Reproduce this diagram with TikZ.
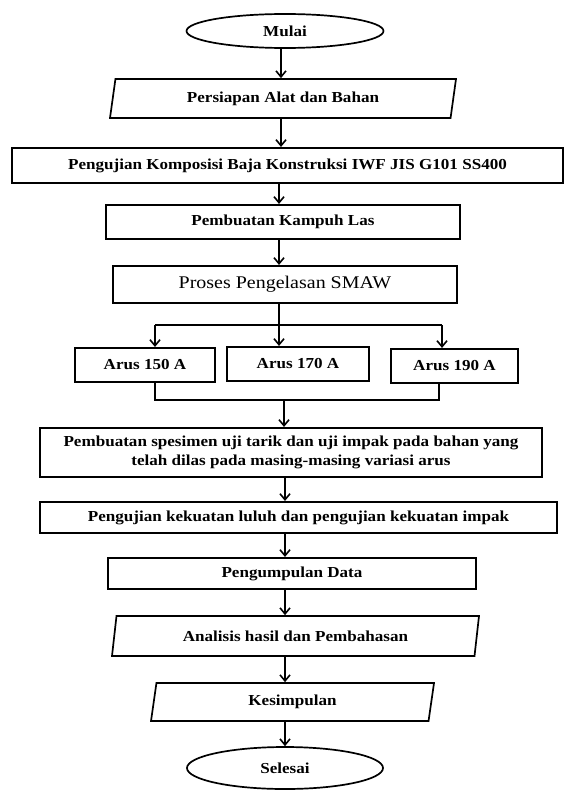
\documentclass[tikz,border=0pt]{standalone}
\usepackage{fontspec}
\setmainfont[FakeStretch=1.12]{Liberation Serif}
\usetikzlibrary{positioning,arrows.meta,shapes.geometric}

\begin{document}
\begin{tikzpicture}[x=1bp,y=-1bp,
    font=\fontsize{15.3}{19}\selectfont\bfseries,
    box/.style={rectangle,draw,line width=2.1bp,inner sep=2bp,align=center},
    io/.style={trapezium,trapezium left angle=73,trapezium right angle=107,
               trapezium stretches body,draw,line width=1.7bp,inner sep=2bp},
    term/.style={ellipse,draw,line width=1.7bp,inner sep=1bp},
    arr/.style={-{Straight Barb[length=6bp,width=10bp]},line width=1.6bp}]
  \useasboundingbox (0,0) rectangle (565,791);
  % terminals and process steps
  \node[term,minimum width=197bp,minimum height=34bp] (start) at (285,31) {Mulai};
  \node[io,minimum width=346bp,minimum height=39bp] (prep) at (283,98.5) {Persiapan Alat dan Bahan};
  \node[box,minimum width=551bp,minimum height=35bp] (comp) at (287.5,165.5)
       {Pengujian Komposisi Baja Konstruksi IWF JIS G101 SS400};
  \node[box,minimum width=354bp,minimum height=34bp] (kampuh) at (283,222) {Pembuatan Kampuh Las};
  \node[box,minimum width=344bp,minimum height=37bp,
        font=\fontsize{17.9}{21}\selectfont\mdseries] (smaw) at (285,284.5) {Proses Pengelasan SMAW};
  \node[box,minimum width=140bp,minimum height=34bp] (a150) at (145,365) {Arus 150 A};
  \node[box,minimum width=142bp,minimum height=34bp] (a170) at (298,364) {Arus 170 A};
  \node[box,minimum width=127bp,minimum height=34bp] (a190) at (454.5,366) {Arus 190 A};
  \node[box,minimum width=502bp,minimum height=49bp] (spec) at (291,452.5)
       {Pembuatan spesimen uji tarik dan uji impak pada bahan yang\\
        telah dilas pada masing-masing variasi arus};
  \node[box,minimum width=517bp,minimum height=31bp] (kuat) at (298.5,517.5)
       {Pengujian kekuatan luluh dan pengujian kekuatan impak};
  \node[box,minimum width=368bp,minimum height=31bp] (data) at (292,573.5) {Pengumpulan Data};
  \node[io,minimum width=367bp,minimum height=40bp] (anal) at (295.5,636) {Analisis hasil dan Pembahasan};
  \node[io,minimum width=283bp,minimum height=38bp] (kes) at (292.5,702) {Kesimpulan};
  \node[term,minimum width=196bp,minimum height=42bp] (stop) at (285,768) {Selesai};
  % spine, fork and join points
  \coordinate (upper) at (281,0);
  \coordinate (lower) at (285,0);
  \coordinate (fork) at (279,325);
  \coordinate (b1) at (155,325);
  \coordinate (b3) at (442,325);
  \coordinate (j1) at (155,400);
  \coordinate (j3) at (439,400);
  \coordinate (join) at (284,400);
  % connectors
  \draw[arr] (upper |- start.south) -- (upper |- prep.north);
  \draw[arr] (upper |- prep.south) -- (upper |- comp.north);
  \draw[arr] (fork |- comp.south) -- (fork |- kampuh.north);
  \draw[arr] (fork |- kampuh.south) -- (fork |- smaw.north);
  \draw[line width=1.6bp] (fork |- smaw.south) -- (fork);
  \draw[line width=2.4bp] (b1) -- (b3);
  \draw[arr] (b1) -- (b1 |- a150.north);
  \draw[arr] (fork) -- (fork |- a170.north);
  \draw[arr] (b3) -- (b3 |- a190.north);
  \draw[line width=1.5bp] (j1 |- a150.south) -- (j1) -- (j3) -- (j3 |- a190.south);
  \draw[arr] (join) -- (join |- spec.north);
  \draw[arr] (lower |- spec.south) -- (lower |- kuat.north);
  \draw[arr] (lower |- kuat.south) -- (lower |- data.north);
  \draw[arr] (lower |- data.south) -- (lower |- anal.north);
  \draw[arr] (lower |- anal.south) -- (lower |- kes.north);
  \draw[arr] (lower |- kes.south) -- (lower |- stop.north);
\end{tikzpicture}
\end{document}
